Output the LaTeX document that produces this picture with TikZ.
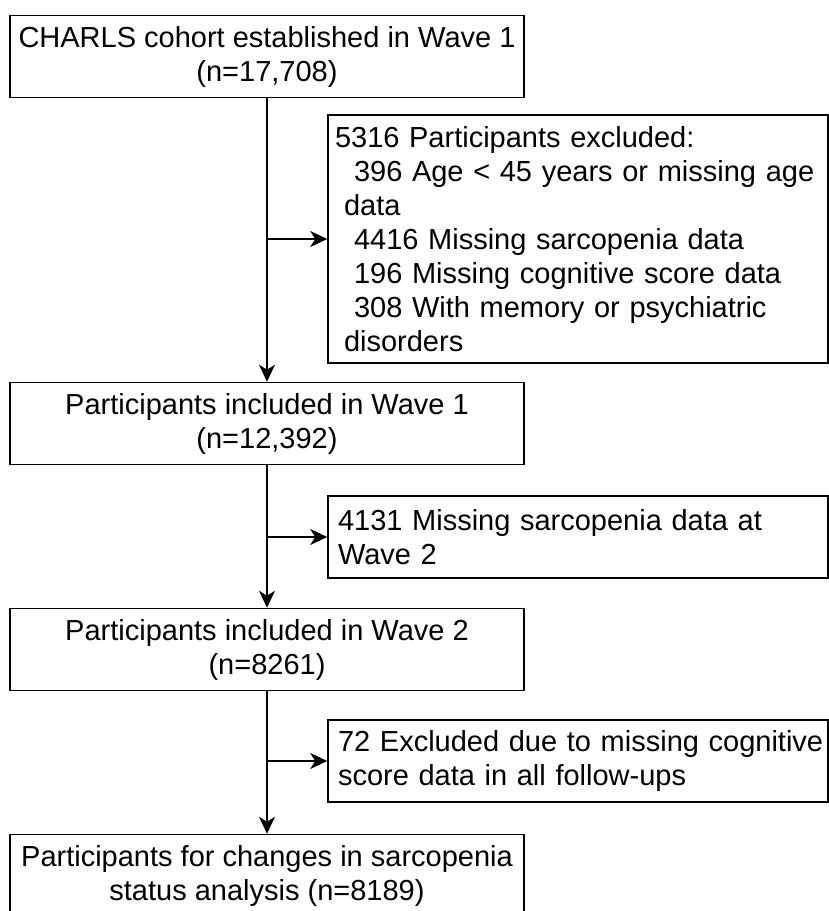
\documentclass[tikz,border=0pt]{standalone}
\usepackage{fontspec}
\setmainfont{Liberation Sans}
\usetikzlibrary{arrows.meta}
\begin{document}
\begin{tikzpicture}[x=1pt,y=-1pt,
  box/.style={draw, line width=1.5pt, inner sep=0pt, minimum height=82pt, minimum width=514pt, align=center, font=\fontsize{29}{34}\selectfont},
  exbox/.style={draw, line width=1.5pt, inner xsep=7pt, inner ysep=0pt, text width=486pt, minimum height=82pt, align=left, font=\fontsize{29}{34}\selectfont},
  arr/.style={line width=1.5pt, -{Stealth[length=17pt,width=16pt,inset=5pt]}}]
\useasboundingbox (0,0) rectangle (829,911);
\node[box] (b1) at (267,56.5) {CHARLS cohort established in Wave 1\\(n=17,708)};
\node[exbox, minimum height=248pt] (e1) at (578,239) {\mbox{5316 Participants excluded:}\\
\mbox{\hspace*{19pt}396 Age < 45 years or missing age}\\
\mbox{\hspace*{9pt}data}\\
\mbox{\hspace*{19pt}4416 Missing sarcopenia data}\\
\mbox{\hspace*{19pt}196 Missing cognitive score data}\\
\mbox{\hspace*{19pt}308 With memory or psychiatric}\\
\mbox{\hspace*{9pt}disorders}};
\node[box] (b2) at (267,423.5) {Participants included in Wave 1\\(n=12,392)};
\node[exbox] (e2) at (578,537) {\mbox{\hspace*{3pt}4131 Missing sarcopenia data at}\\\mbox{\hspace*{3pt}Wave 2}};
\node[box] (b3) at (267,649.5) {Participants included in Wave 2\\(n=8261)};
\node[exbox] (e3) at (578,761) {\mbox{\hspace*{3pt}72 Excluded due to missing cognitive}\\\mbox{\hspace*{3pt}score data in all follow-ups}};
\node[box] (b4) at (267,875.5) {Participants for changes in sarcopenia\\status analysis (n=8189)};
\draw[arr] (b1) -- (b2);
\draw[arr] (b2) -- (b3);
\draw[arr] (b3) -- (b4);
\draw[arr] (b1 |- e1) -- (e1);
\draw[arr] (b2 |- e2) -- (e2);
\draw[arr] (b3 |- e3) -- (e3);
\end{tikzpicture}
\end{document}
